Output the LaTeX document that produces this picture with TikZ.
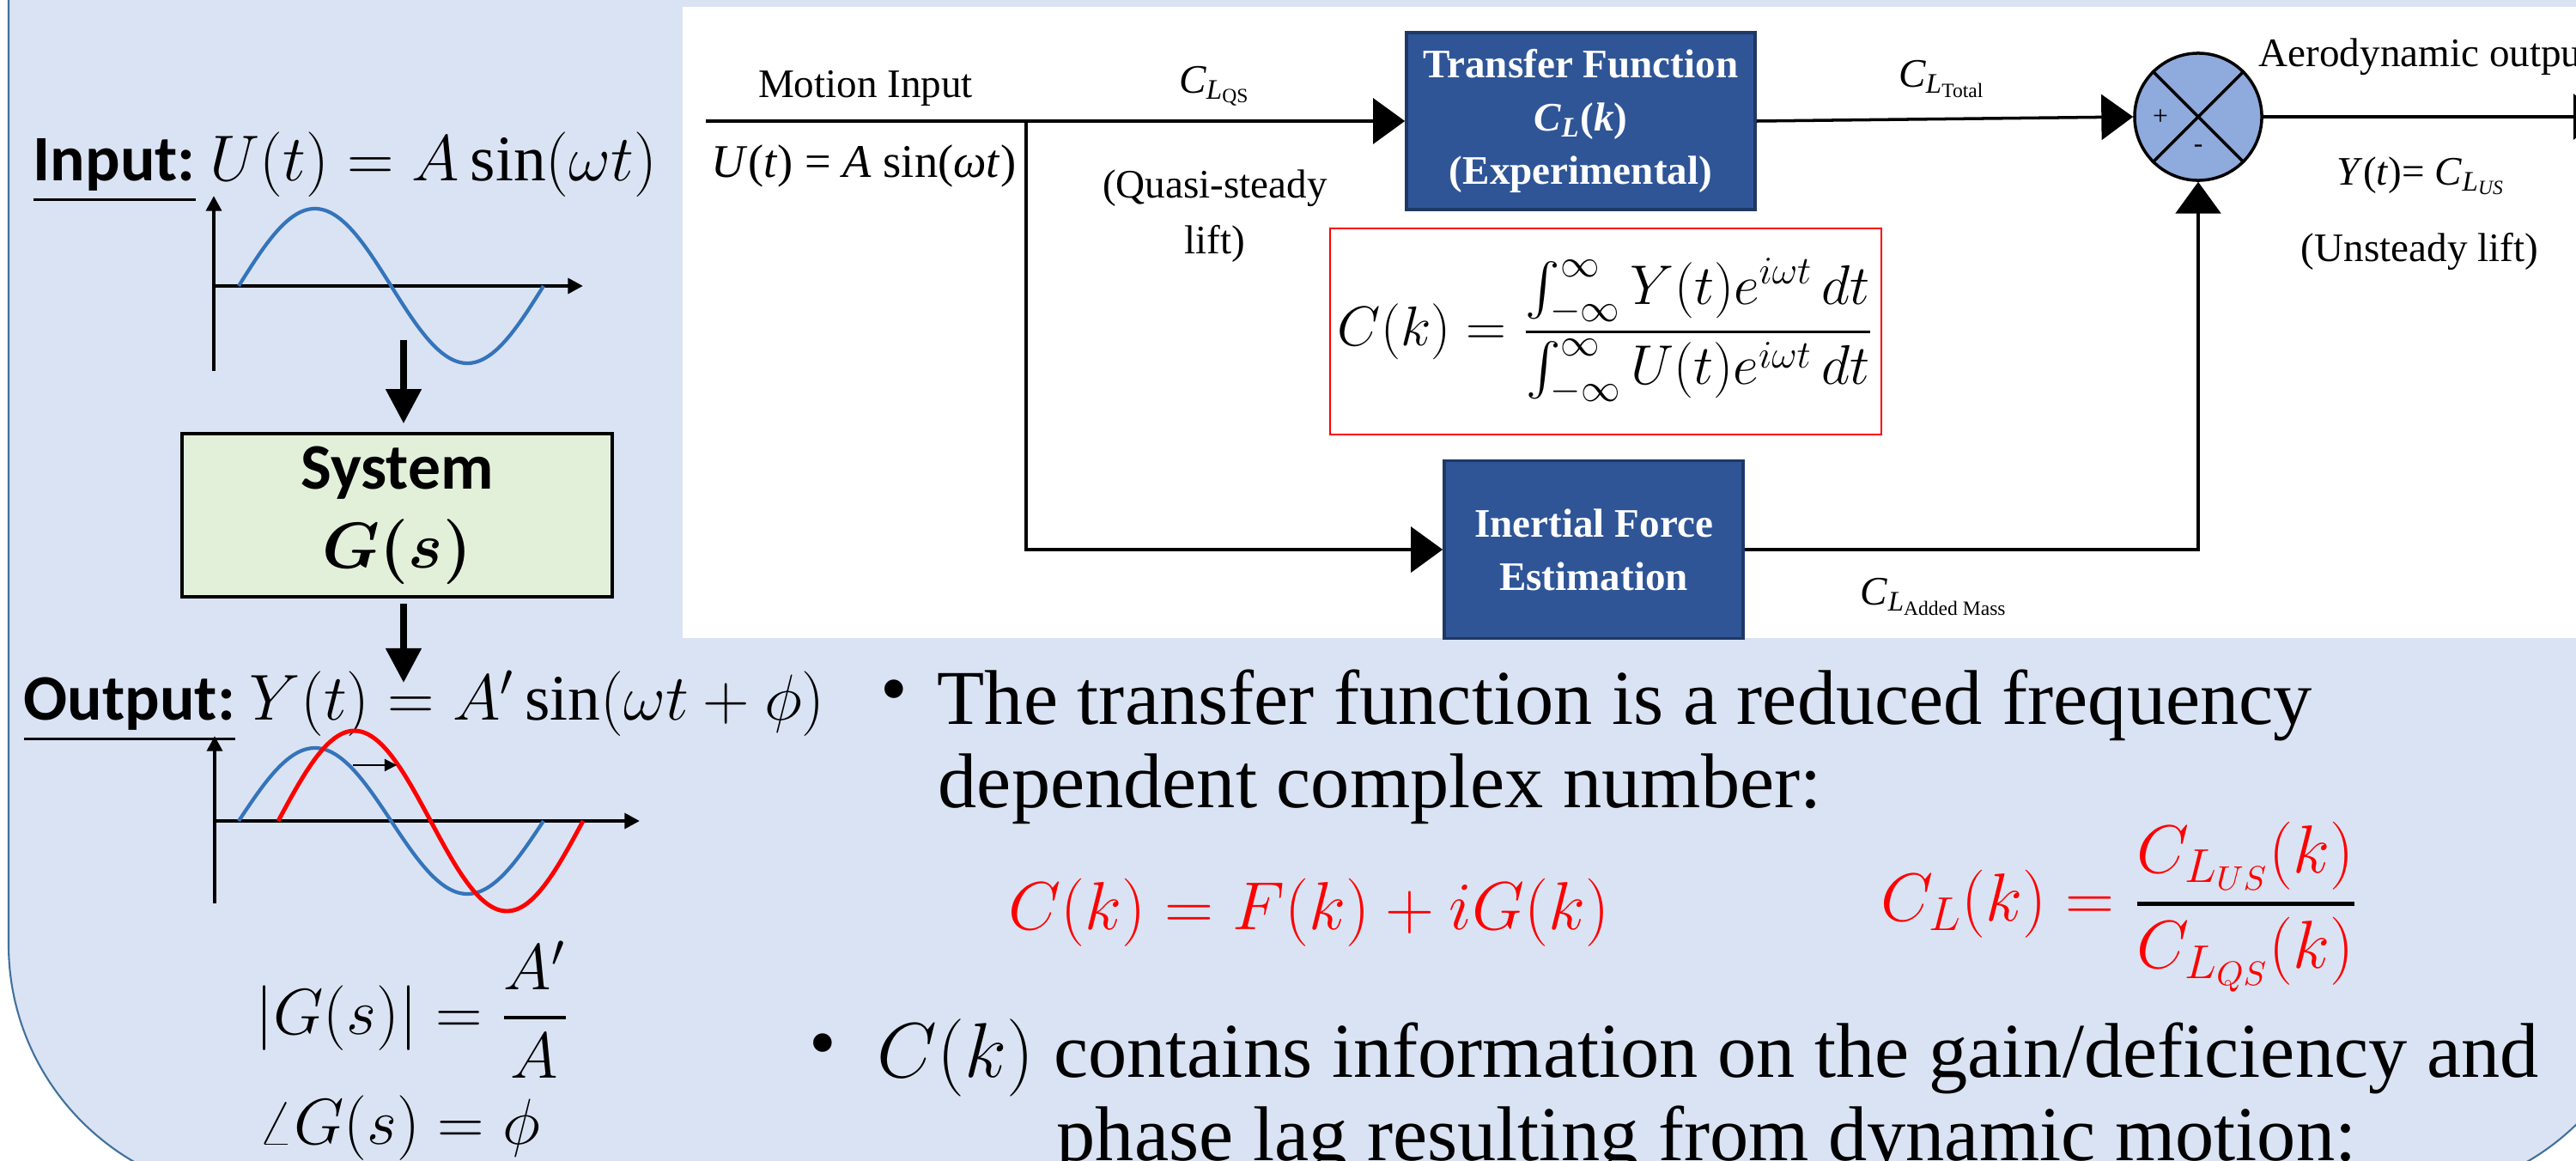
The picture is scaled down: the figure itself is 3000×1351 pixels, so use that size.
\RequirePackage{fix-cm}
\documentclass[tikz,border=0pt]{standalone}
\usepackage{amsmath}
\usepackage{fontspec}
\setmainfont{Liberation Serif}
\newfontfamily\calfont{Carlito}
\usetikzlibrary{arrows.meta}
\definecolor{Slide}{RGB}{218,227,243}
\definecolor{SlideEdge}{RGB}{65,113,156}
\definecolor{Navy}{RGB}{47,85,151}
\definecolor{NavyEdge}{RGB}{31,56,100}
\definecolor{SumFill}{RGB}{143,170,220}
\definecolor{SysFill}{RGB}{226,240,217}
\definecolor{Wave}{RGB}{52,116,186}

\begin{document}
\begin{tikzpicture}[x=0.01cm,y=-0.01cm,line cap=butt,line join=miter,
  flowline/.style={line width=1pt,-{Triangle[length=10.5pt,width=15pt]}},
  downarrow/.style={line width=2.2pt,-{Triangle[length=11.4pt,width=11.4pt]}},
  axisline/.style={line width=1.4pt,-{Triangle[length=5pt,width=5pt]}},
  waveline/.style={Wave,line width=1.2pt,smooth},
  blockbox/.style={draw=NavyEdge,line width=1pt,fill=Navy,text=white,align=center,inner sep=0pt,font=\bfseries\fontsize{13.4}{17.6}\selectfont},
  lbltext/.style={align=center,inner sep=0pt,font=\fontsize{13.4}{18.5}\selectfont},
  sidetext/.style={inner sep=0pt,align=center,font=\calfont\fontsize{21.5}{26}\selectfont},
  bodytext/.style={anchor=base west,inner sep=0pt,font=\fontsize{25.7}{27.6}\selectfont},
  mathred/.style={anchor=base west,inner sep=0pt,text=red,font=\fontsize{22.5}{27}\selectfont}]
\useasboundingbox (0,0) rectangle (3000,1351);
\clip (0,0) rectangle (3000,1351);
\fill[white] (0,0) rectangle (3000,1351);
\draw[SlideEdge,line width=0.6pt,fill=Slide,rounded corners=2.92cm] (10,-400) rectangle (3089,1392);
\fill[white] (795,8) rectangle (3010,743);
\node[sidetext,anchor=base west] (inlbl) at (38,210) {\bfseries\underline{Input:} \mdseries$U(t) = A\sin(\omega t)$};
\draw[axisline] (249,432) -- (249,228);
\draw[axisline] (249,333) -- (679,333);
\draw[waveline] plot[domain=0:360,samples=73] ({278+\x/360*355},{333-90*sin(\x)});
\node[draw,line width=1pt,fill=SysFill,minimum width=5.01cm,minimum height=1.9cm,sidetext] (sys) at (462.5,600) {\bfseries System\\$\boldsymbol{G(s)}$};
\coordinate (a1) at (470,396);
\coordinate (a2) at (470,795);
\draw[downarrow,shorten >=0.1cm] (a1) -- (a1 |- sys.north);
\draw[downarrow,shorten <=0.06cm] (a2 |- sys.south) -- (a2);
\node[sidetext,anchor=base west] (outlbl) at (27,838) {\bfseries\underline{Output:} \mdseries$Y(t) = A'\sin(\omega t+\phi)$};
\draw[axisline] (250,1052) -- (250,857);
\draw[axisline] (250,956) -- (745,956);
\draw[waveline] plot[domain=0:360,samples=73] ({278+\x/360*355},{956-85*sin(\x)});
\draw[waveline,red,line width=1.4pt] plot[domain=0:360,samples=73] ({324+\x/360*355},{956-105*sin(\x)});
\coordinate (sh0) at (411,891);
\coordinate (sh1) at (462,891);
\draw[line width=0.6pt,-{Triangle[length=4pt,width=4pt]}] (sh0) -- (sh1);
\node[sidetext] (gain) at (480,1176) {$|G(s)| = \genfrac{}{}{1.1pt}{0}{A'}{A}$};
\node[sidetext] (phase) at (465,1314) {$\angle G(s) = \phi$};
\node[blockbox,minimum width=4.06cm,minimum height=2.06cm] (tf) at (1841,141) {Transfer Function\\\textit{C}$_{\textit{L}}$(\textit{k})\\(Experimental)};
\node[blockbox,minimum width=3.48cm,minimum height=2.07cm] (inert) at (1856,640) {Inertial Force\\Estimation};
\node[circle,draw,line width=1pt,fill=SumFill,minimum size=1.48cm,inner sep=0pt] (sum) at (2560,136) {};
\draw[line width=1pt] (sum.north west) -- (sum.south east);
\draw[line width=1pt] (sum.north east) -- (sum.south west);
\node[inner sep=0pt,font=\fontsize{9}{10}\selectfont] (plus) at (2516,137) {+};
\node[inner sep=0pt,font=\fontsize{9}{10}\selectfont] (minus) at (2560,173) {-};
\node[draw=red,line width=0.6pt,minimum width=6.42cm,minimum height=2.4cm,inner sep=0pt,font=\fontsize{18.5}{22}\selectfont] (ck) at (1870,386) {$C(k) = \dfrac{\int_{-\infty}^{\infty} Y(t)e^{i\omega t}\,dt}{\int_{-\infty}^{\infty} U(t)e^{i\omega t}\,dt}$};
\coordinate (min) at (822,141);
\coordinate (br) at (1195,141);
\coordinate (yout) at (3034,136);
\draw[flowline] (min) -- (tf.west);
\draw[flowline] (br) |- (inert.west);
\draw[flowline] (tf.east) -- (sum.west);
\draw[flowline] (sum.east) -- (yout);
\draw[flowline] (inert.east) -| (sum.south);
\node[lbltext] (motion) at (1008,103) {Motion Input};
\node[lbltext,font=\fontsize{15.5}{18}\selectfont] (uin) at (1006,193) {\textit{U}(\textit{t}) = \textit{A} sin(\textit{ωt})};
\node[lbltext] (cqs) at (1415,100) {\textit{C}$_{\textit{L}_{\text{QS}}}$};
\node[lbltext] (qs) at (1415,252) {(Quasi-steady\\lift)};
\node[lbltext] (ctot) at (2262,92) {\textit{C}$_{\textit{L}_{\text{Total}}}$};
\node[lbltext,anchor=base west] (aero) at (2630,77) {Aerodynamic output};
\node[lbltext] (yus) at (2820,205) {\textit{Y}(\textit{t})= \textit{C}$_{\textit{L}_{\textit{US}}}$};
\node[lbltext] (unst) at (2818,293) {(Unsteady lift)};
\node[lbltext] (cam) at (2253,695) {\textit{C}$_{\textit{L}_{\text{Added Mass}}}$};
\node[bodytext,anchor=center] (b1) at (1041,812) {\textbullet};
\node[bodytext] (l1) at (1091,843) {The transfer function is a reduced frequency};
\node[bodytext] (l2) at (1092,940) {dependent complex number:};
\node[mathred] (cf) at (1174,1082) {$C(k) = F(k) + iG(k)$};
\node[mathred] (cl) at (2190,1072) {$C_L(k) = {\color{black}\genfrac{}{}{1.3pt}{0}{\color{red}C_{L_{US}}(k)}{\color{red}C_{L_{QS}}(k)}}$};
\node[bodytext,anchor=center] (b2) at (958,1224) {\textbullet};
\node[bodytext] (l3) at (1021,1254) {$C(k)$ contains information on the gain/deficiency and};
\node[bodytext] (l4) at (1230,1351) {phase lag resulting from dynamic motion:};
\end{tikzpicture}
\end{document}
